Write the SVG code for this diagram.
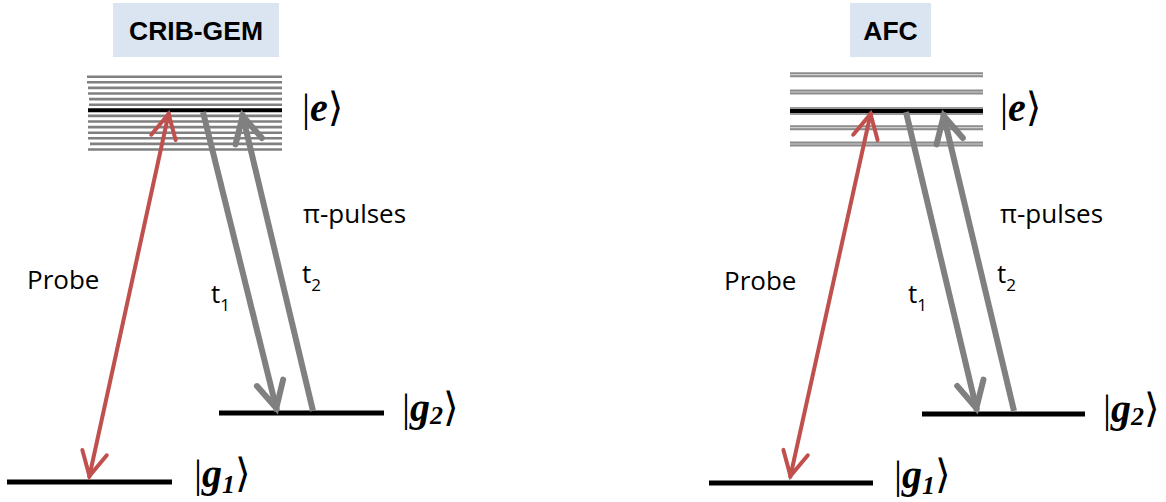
<svg xmlns="http://www.w3.org/2000/svg" width="1166" height="502" viewBox="0 0 1166 502">
<style>
.title{font-family:"Liberation Sans",Arial,sans-serif;font-weight:bold;font-size:26.5px;fill:#000;text-anchor:middle}
.tbox{fill:#dbe5f1}
.lbl{font-family:"Open Sans","Liberation Sans",sans-serif;font-size:26px;fill:#000}
.sub{font-size:17px}
.ket{font-family:"Liberation Serif","DejaVu Serif",serif;font-size:40px;fill:#000}
.bi{font-weight:bold;font-style:italic}
.lvl{stroke:#000;stroke-width:5}
.g{stroke:#808080;stroke-width:2.6}
.ex{stroke:#000;stroke-width:4}
.afcg{stroke:#8c8c8c;stroke-width:5}
.afcgi{stroke:#cfcfcf;stroke-width:1.2}
.afcb{stroke:#9a9a9a;stroke-width:8}
.red{stroke:#c0504d;stroke-width:4;fill:none}
.gry{stroke:#808080;stroke-width:6;fill:none}
</style>
<defs>
<marker id="mr" markerUnits="userSpaceOnUse" orient="auto-start-reverse" viewBox="-50 -25 60 50" markerWidth="60" markerHeight="50" refX="0" refY="0">
<path d="M-26,-12.5 L-2,0 L-26,12.5" fill="none" stroke="#c0504d" stroke-width="4" stroke-linecap="round" stroke-linejoin="miter"/>
</marker>
<marker id="mg" markerUnits="userSpaceOnUse" orient="auto" viewBox="-50 -25 60 50" markerWidth="60" markerHeight="50" refX="0" refY="0">
<path d="M-29,-13.5 L-3,0 L-29,13.5" fill="none" stroke="#808080" stroke-width="6" stroke-linecap="round" stroke-linejoin="miter"/>
</marker>
</defs>

<!-- LEFT: CRIB-GEM -->
<g id="title-crib">
<rect class="tbox" x="113" y="3" width="166" height="54"/>
<text class="title" x="196" y="40">CRIB-GEM</text>
</g>
<g id="e-level-crib">
<line class="g" x1="87" y1="76.7" x2="282" y2="76.7"/>
<line class="g" x1="87" y1="82.3" x2="282" y2="82.3"/>
<line class="g" x1="88" y1="87.9" x2="282" y2="87.9"/>
<line class="g" x1="88" y1="93.5" x2="282" y2="93.5"/>
<line class="g" x1="89" y1="99.1" x2="282" y2="99.1"/>
<line class="g" x1="89" y1="104.7" x2="282" y2="104.7"/>
<line class="ex" x1="88" y1="110.3" x2="282" y2="110.3"/>
<line class="g" x1="88" y1="115.9" x2="282" y2="115.9"/>
<line class="g" x1="88" y1="121.5" x2="282" y2="121.5"/>
<line class="g" x1="88" y1="127.1" x2="282" y2="127.1"/>
<line class="g" x1="88" y1="132.7" x2="282" y2="132.7"/>
<line class="g" x1="88" y1="138.3" x2="282" y2="138.3"/>
<line class="g" x1="90" y1="143.9" x2="282" y2="143.9"/>
<line class="g" x1="88" y1="149.5" x2="282" y2="149.5"/>
<text class="ket" x="302" y="121">|<tspan class="bi">e</tspan>⟩</text>
</g>
<g id="g2-level-crib">
<line class="lvl" x1="219" y1="413" x2="384" y2="413"/>
<text class="ket" x="402" y="421">|<tspan class="bi">g</tspan><tspan class="bi" font-size="26" dy="3">2</tspan><tspan dy="-3">⟩</tspan></text>
</g>
<g id="g1-level-crib">
<line class="lvl" x1="7" y1="482" x2="172" y2="482"/>
<text class="ket" x="194" y="487">|<tspan class="bi">g</tspan><tspan class="bi" font-size="26" dy="6">1</tspan><tspan dy="-6">⟩</tspan></text>
</g>
<g id="labels-crib">
<text class="lbl" x="27" y="289">Probe</text>
<text class="lbl" x="303" y="223">π-pulses</text>
<text class="lbl" x="211" y="303">t<tspan class="sub" dy="8">1</tspan></text>
<text class="lbl" x="302" y="283">t<tspan class="sub" dy="8">2</tspan></text>
</g>

<!-- RIGHT: AFC -->
<g id="title-afc">
<rect class="tbox" x="850" y="3" width="81" height="54"/>
<text class="title" x="890.5" y="40">AFC</text>
</g>
<g id="e-level-afc">
<line class="afcg" x1="790" y1="74.7" x2="983" y2="74.7"/>
<line class="afcgi" x1="790" y1="74.7" x2="983" y2="74.7"/>
<line class="afcg" x1="790" y1="92" x2="983" y2="92"/>
<line class="afcgi" x1="790" y1="92" x2="983" y2="92"/>
<line class="afcb" x1="790" y1="111" x2="983" y2="111"/>
<line class="ex" x1="790" y1="111" x2="983" y2="111"/>
<line class="afcg" x1="790" y1="127.7" x2="983" y2="127.7"/>
<line class="afcgi" x1="790" y1="127.7" x2="983" y2="127.7"/>
<line class="afcg" x1="790" y1="144" x2="983" y2="144"/>
<line class="afcgi" x1="790" y1="144" x2="983" y2="144"/>
<text class="ket" x="1000" y="121">|<tspan class="bi">e</tspan>⟩</text>
</g>
<g id="g2-level-afc">
<line class="lvl" x1="922" y1="414" x2="1085" y2="414"/>
<text class="ket" x="1103" y="422">|<tspan class="bi">g</tspan><tspan class="bi" font-size="26" dy="3">2</tspan><tspan dy="-3">⟩</tspan></text>
</g>
<g id="g1-level-afc">
<line class="lvl" x1="709" y1="483" x2="873" y2="483"/>
<text class="ket" x="894" y="488">|<tspan class="bi">g</tspan><tspan class="bi" font-size="26" dy="6">1</tspan><tspan dy="-6">⟩</tspan></text>
</g>
<g id="labels-afc">
<text class="lbl" x="724" y="290">Probe</text>
<text class="lbl" x="1000" y="223">π-pulses</text>
<text class="lbl" x="908" y="303">t<tspan class="sub" dy="8">1</tspan></text>
<text class="lbl" x="997" y="283">t<tspan class="sub" dy="8">2</tspan></text>
</g>

<g id="connectors">
<line class="red" x1="89" y1="478" x2="169" y2="112" marker-start="url(#mr)" marker-end="url(#mr)"/>
<line class="gry" x1="203" y1="112" x2="277" y2="411" marker-end="url(#mg)"/>
<line class="gry" x1="313" y1="411" x2="242" y2="113" marker-end="url(#mg)"/>
<line class="red" x1="790" y1="478" x2="871" y2="112" marker-start="url(#mr)" marker-end="url(#mr)"/>
<line class="gry" x1="906" y1="112" x2="977" y2="411" marker-end="url(#mg)"/>
<line class="gry" x1="1014" y1="411" x2="943" y2="113" marker-end="url(#mg)"/>
</g>
</svg>
